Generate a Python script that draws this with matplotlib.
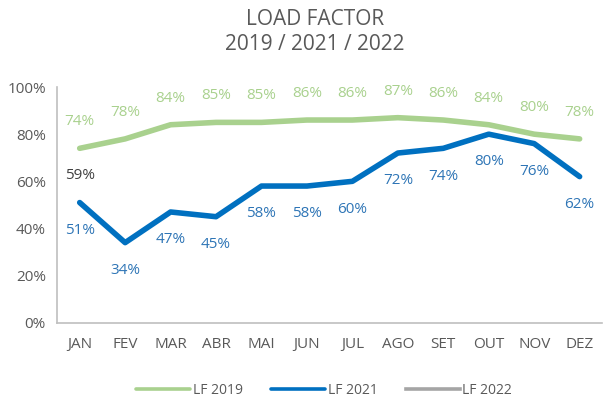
import matplotlib.pyplot as plt

plt.rcParams['font.family'] = ['Open Sans', 'DejaVu Sans']

months = ['JAN', 'FEV', 'MAR', 'ABR', 'MAI', 'JUN', 'JUL', 'AGO', 'SET', 'OUT', 'NOV', 'DEZ']
lf_2019 = [74, 78, 84, 85, 85, 86, 86, 87, 86, 84, 80, 78]
lf_2021 = [51, 34, 47, 45, 58, 58, 60, 72, 74, 80, 76, 62]
lf_2022 = [59]

green = '#A9D18E'
blue = '#0070C0'
gray = '#A5A5A5'
txt = '#595959'

fig = plt.figure(figsize=(6.06, 4.01), dpi=100)
ax = fig.add_axes([0.094, 0.195, 0.9, 0.588])

x = list(range(len(months)))
ax.plot(x, lf_2019, color=green, lw=4, solid_capstyle='round', label='LF 2019')
ax.plot(x, lf_2021, color=blue, lw=4, solid_capstyle='round', label='LF 2021')
ax.plot(range(len(lf_2022)), lf_2022, color=gray, lw=4, label='LF 2022')

for i, v in enumerate(lf_2019):
    ax.annotate(f'{v}%', (i, v), xytext=(0, 19), textcoords='offset points',
                ha='center', va='center', color=green, fontsize=11)
for i, v in enumerate(lf_2021):
    ax.annotate(f'{v}%', (i, v), xytext=(0, -20), textcoords='offset points',
                ha='center', va='center', color='#2E75B6', fontsize=11)
for i, v in enumerate(lf_2022):
    ax.annotate(f'{v}%', (i, v), xytext=(0, 6), textcoords='offset points',
                ha='center', va='center', color='#404040', fontsize=11)

ax.set_xlim(-0.5, 11.5)
ax.set_ylim(0, 100)
ax.set_xticks(x)
ax.set_xticklabels(months)
ax.set_yticks(range(0, 101, 20))
ax.set_yticklabels([f'{t}%' for t in range(0, 101, 20)])
ax.tick_params(length=0, labelsize=11, colors=txt)
ax.tick_params(axis='x', pad=10)
ax.tick_params(axis='y', pad=8)
for s in ['top', 'right']:
    ax.spines[s].set_visible(False)
for s in ['left', 'bottom']:
    ax.spines[s].set_color('#BFBFBF')
    ax.spines[s].set_linewidth(1.2)

fig.text(0.52, 0.92, 'LOAD FACTOR\n2019 / 2021 / 2022', ha='center', va='center',
         fontsize=15, color=txt, linespacing=1.25)

leg = fig.legend(loc='center', bbox_to_anchor=(0.535, 0.027), ncol=3, frameon=False,
                 fontsize=10, labelcolor=txt, handlelength=3.9, columnspacing=2.0,
                 handletextpad=0.2)
for h in leg.get_lines():
    h.set_linewidth(2.6)

fig.savefig('out.png', dpi=100)
